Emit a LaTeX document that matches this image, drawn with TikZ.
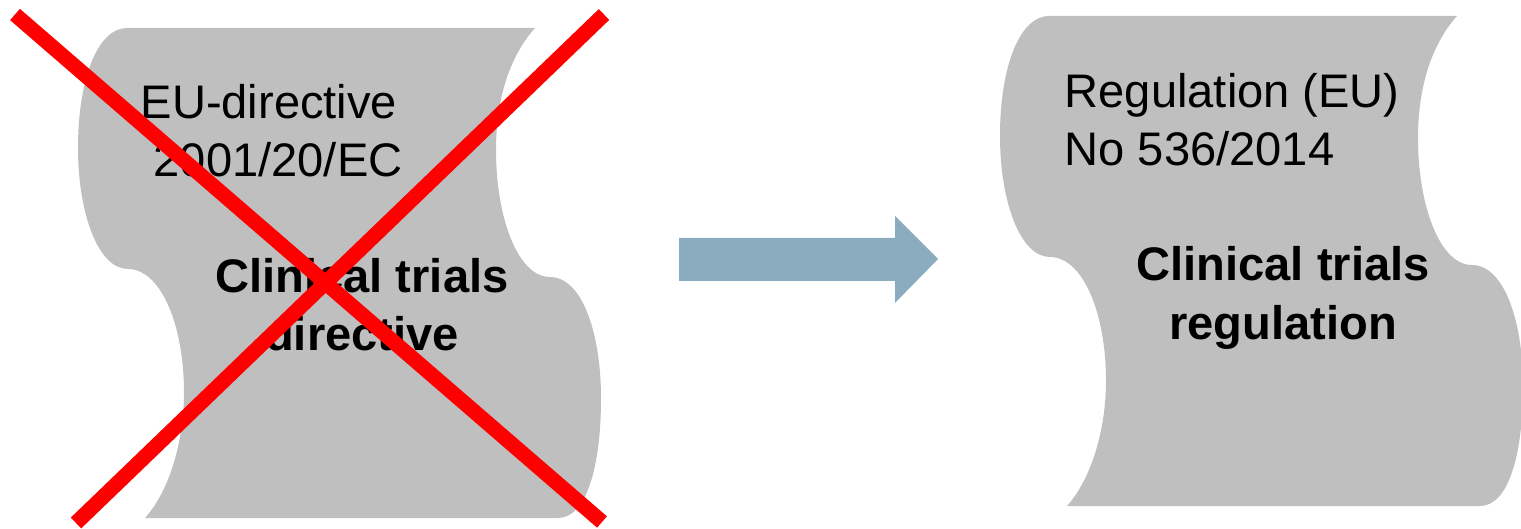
\documentclass[tikz,border=0pt]{standalone}
\usepackage{fontspec}
\setmainfont{Liberation Sans}
\usepackage{xcolor}
\usepackage{tikz}
\usetikzlibrary{positioning}
\definecolor{paper}{HTML}{BFBFBF}
\definecolor{steel}{HTML}{8BACBF}
\definecolor{strike}{HTML}{FF0000}

\begin{document}
\begin{tikzpicture}[
  scroll/.pic={
    \fill[paper] (1.27,5.00) -- (5.35,5.00)
      .. controls (5.10,4.72) and (4.96,4.30) .. (4.96,3.78)
      .. controls (4.96,3.10) and (5.18,2.51) .. (5.50,2.51)
      .. controls (5.82,2.51) and (6.01,1.95) .. (6.01,1.30)
      .. controls (6.01,0.60) and (5.86,0.10) .. (5.58,0.10)
      -- (1.45,0.10)
      .. controls (1.70,0.38) and (1.84,0.88) .. (1.84,1.35)
      .. controls (1.84,2.05) and (1.60,2.59) .. (1.28,2.59)
      .. controls (0.98,2.59) and (0.78,3.15) .. (0.78,3.80)
      .. controls (0.78,4.50) and (0.98,5.00) .. (1.27,5.00) -- cycle;
  },
  lawtag/.style={anchor=base west,align=left,inner sep=0pt,
    font=\fontsize{13.4}{16.6}\selectfont},
  lawname/.style={anchor=base,align=center,inner sep=0pt,
    font=\fontsize{13.4}{16.6}\selectfont\bfseries}]
  \useasboundingbox (0,0) rectangle (15.21,5.28);
  % left: the old directive
  \begin{scope}
    \pic {scroll};
    \node[lawtag] (oldtag) at (1.40,3.51) {EU-directive\\~2001/20/EC};
    \node[lawname] (oldname) at (3.62,1.77) {Clinical trials\\directive};
  \end{scope}
  % right: the new regulation
  \begin{scope}[shift={(9.22,0.12)}]
    \pic {scroll};
    \node[lawtag] (newtag) at (1.42,3.50) {Regulation (EU)\\No 536/2014};
    \node[lawname] (newname) at (3.61,1.77) {Clinical trials\\regulation};
  \end{scope}
  % block arrow between them
  \fill[steel] (6.79,2.90) -- (8.95,2.90) -- (8.95,3.12) -- (9.38,2.69)
    -- (8.95,2.25) -- (8.95,2.47) -- (6.79,2.47) -- cycle;
  % crossed out
  \coordinate (xtl) at (0.15,5.135);
  \coordinate (xbr) at (6.02,0.06);
  \coordinate (xtr) at (6.04,5.135);
  \coordinate (xbl) at (0.76,0.05);
  \draw[strike,line width=0.15cm] (xtl) -- (xbr) (xtr) -- (xbl);
\end{tikzpicture}
\end{document}
